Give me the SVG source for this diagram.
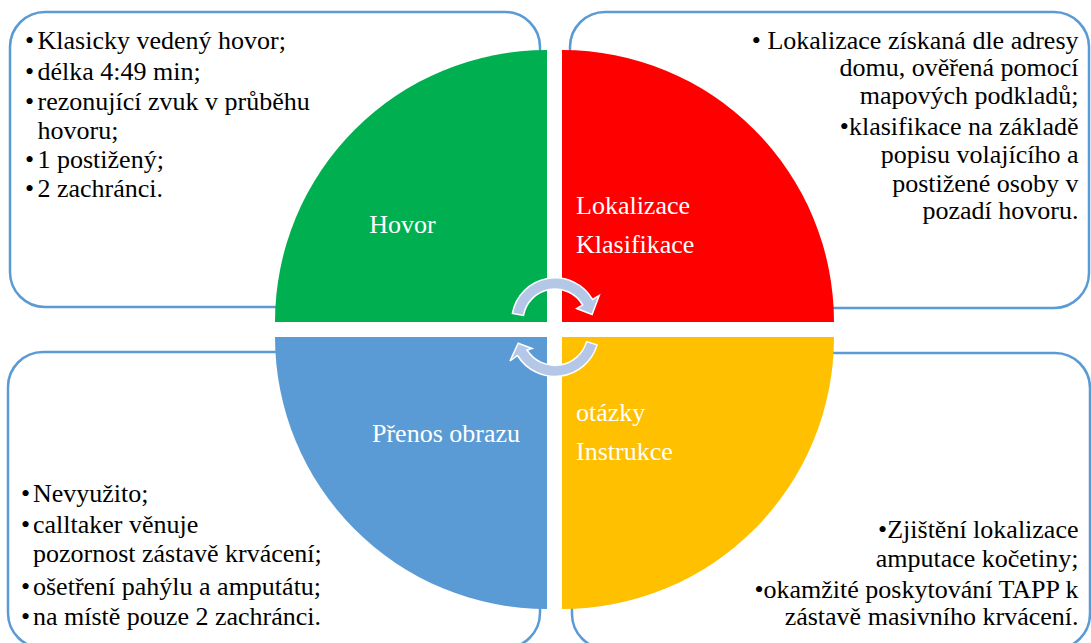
<svg xmlns="http://www.w3.org/2000/svg" width="1091" height="643" viewBox="0 0 1091 643">
<style>
.box{fill:#fff;stroke:#5B9BD5;stroke-width:2.5}
.t{font-family:"Liberation Serif","Times New Roman",serif;font-size:26px;fill:#000}
.e{text-anchor:end}
.lbl{font-family:"Liberation Serif","Times New Roman",serif;font-size:26px;fill:#fff}
.arr{fill:#B4C7E7;stroke:#fff;stroke-width:1.5;stroke-linejoin:miter}
</style>
<rect width="1091" height="643" fill="#fff"/>
<g id="box-tl"><rect class="box" x="10" y="12" width="530" height="295" rx="35"/>
<text class="t" x="25" y="49">•</text><text class="t" x="37.5" y="49">Klasicky vedený hovor;</text>
<text class="t" x="25" y="80">•</text><text class="t" x="37.5" y="80">délka 4:49 min;</text>
<text class="t" x="25" y="109.5">•</text><text class="t" x="37.5" y="109.5">rezonující zvuk v průběhu</text>
<text class="t" x="37.5" y="138.5">hovoru;</text>
<text class="t" x="25" y="168">•</text><text class="t" x="37.5" y="168">1 postižený;</text>
<text class="t" x="25" y="197">•</text><text class="t" x="37.5" y="197">2 zachránci.</text>
</g>
<g id="box-tr"><rect class="box" x="570" y="12" width="519" height="296" rx="35"/>
<text class="t e" x="1078.5" y="49">• Lokalizace získaná dle adresy</text>
<text class="t e" x="1078.5" y="76">domu, ověřená pomocí</text>
<text class="t e" x="1078.5" y="104">mapových podkladů;</text>
<text class="t e" x="1078.5" y="135">•klasifikace na základě</text>
<text class="t e" x="1078.5" y="163">popisu volajícího a</text>
<text class="t e" x="1078.5" y="192">postižené osoby v</text>
<text class="t e" x="1078.5" y="219">pozadí hovoru.</text>
</g>
<g id="box-bl"><rect class="box" x="8" y="352" width="532" height="296" rx="35"/>
<text class="t" x="21" y="502">•</text><text class="t" x="33" y="502">Nevyužito;</text>
<text class="t" x="21" y="533">•</text><text class="t" x="33" y="533">calltaker věnuje</text>
<text class="t" x="33" y="562">pozornost zástavě krvácení;</text>
<text class="t" x="21" y="595">•</text><text class="t" x="33" y="595">ošetření pahýlu a amputátu;</text>
<text class="t" x="21" y="625">•</text><text class="t" x="33" y="625">na místě pouze 2 zachránci.</text>
</g>
<g id="box-br"><rect class="box" x="572" y="353" width="518" height="296" rx="35"/>
<text class="t e" x="1078.5" y="538">•Zjištění lokalizace</text>
<text class="t e" x="1078.5" y="567">amputace kočetiny;</text>
<text class="t e" x="1078.5" y="598">•okamžité poskytování TAPP k</text>
<text class="t e" x="1078.5" y="625">zástavě masivního krvácení.</text>
</g>
<g id="q-hovor"><path d="M547 322 L275 322 A272 272 0 0 1 547 50 Z" fill="#00B050"/>
<text class="lbl" x="402.5" y="233" text-anchor="middle">Hovor</text></g>
<g id="q-lokalizace"><path d="M562 322 L562 50 A272 272 0 0 1 834 322 Z" fill="#FF0000"/>
<text class="lbl" x="576" y="214">Lokalizace</text>
<text class="lbl" x="576" y="253">Klasifikace</text></g>
<g id="q-prenos"><path d="M547 337 L547 609 A272 272 0 0 1 275 337 Z" fill="#5B9BD5"/>
<text class="lbl" x="446" y="442" text-anchor="middle">Přenos obrazu</text></g>
<g id="q-instrukce"><path d="M562 337 L834 337 A272 272 0 0 1 562 609 Z" fill="#FFC000"/>
<text class="lbl" x="576" y="421">otázky</text>
<text class="lbl" x="576" y="460">Instrukce</text></g>
<g id="connectors">
<path class="arr" d="M512.4 313.5 A43.3 43.3 0 0 1 592.5 299.4 L599.2 295.5 L592.1 314.5 L576.7 308.5 L582.7 305 A32 32 0 0 0 523.5 315.4 Z"/>
<path class="arr" d="M597.1 344.9 A44 44 0 0 1 517.5 355.5 L510 361 L518.2 343.3 L532 348.5 L527 350 A33 33 0 0 0 586.6 341.6 Z"/>
</g>
</svg>
